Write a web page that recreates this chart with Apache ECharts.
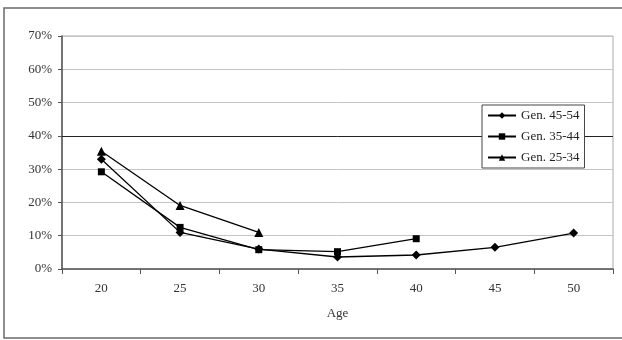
<!DOCTYPE html>
<html>
<head>
<meta charset="utf-8">
<script src="https://cdn.jsdelivr.net/npm/echarts@6/dist/echarts.min.js"></script>
<style>
  html, body { margin: 0; padding: 0; background: #fff; }
  #chart { width: 622px; height: 340px; }
</style>
</head>
<body>
<div id="chart"></div>
<script>
// ages on x axis
const ages = ['20', '25', '30', '35', '40', '45', '50']
// share by generation (fraction), null where no data
const gen4554 = [0.33, 0.11, 0.06, 0.036, 0.042, 0.065, 0.108]
const gen3544 = [0.292, 0.125, 0.058, 0.052, 0.091, null, null]
const gen2534 = [0.354, 0.191, 0.11, null, null, null, null]
const seriesNames = ['Gen. 45-54', 'Gen. 35-44', 'Gen. 25-34']

const font = '"Liberation Serif", "DejaVu Serif", serif'
const chart = echarts.init(document.getElementById('chart'))

function lineSeries(name, data, symbol, size) {
  return {
    name,
    type: 'line',
    data,
    symbol,
    symbolSize: size,
    showSymbol: true,
    connectNulls: false,
    lineStyle: { color: '#000', width: 1.3 },
    itemStyle: { color: '#000' },
    emphasis: { disabled: true },
    z: 3
  }
}

const series = [
  lineSeries(seriesNames[0], gen4554, 'diamond', 9),
  lineSeries(seriesNames[1], gen3544, 'rect', 7),
  lineSeries(seriesNames[2], gen2534, 'triangle', 9)
]
// the dark 40% line
series[0].markLine = {
  silent: true,
  symbol: 'none',
  label: { show: false },
  lineStyle: { color: '#222', type: 'solid', width: 1 },
  data: [{ yAxis: 0.4 }],
  z: 1
}

chart.setOption({
  animation: false,
  textStyle: { fontFamily: font },
  graphic: [{
    type: 'rect',
    shape: { x: 4, y: 8, width: 640, height: 330 },
    style: { fill: 'none', stroke: '#6a6a6a', lineWidth: 1.5 },
    silent: true
  }],
  grid: {
    left: 62, right: 9, top: 36, bottom: 71,
    show: true, borderColor: '#aaa', borderWidth: 1
  },
  legend: {
    orient: 'vertical',
    left: 482, top: 105,
    data: seriesNames,
    backgroundColor: '#fff',
    borderColor: '#444',
    borderWidth: 1,
    padding: [4, 5, 4, 5],
    itemGap: 8,
    itemWidth: 28,
    itemHeight: 8,
    textStyle: { fontFamily: font, fontSize: 13, color: '#222' }
  },
  xAxis: {
    type: 'category',
    data: ages,
    boundaryGap: true,
    name: 'Age',
    nameLocation: 'middle',
    nameGap: 38,
    nameTextStyle: { fontFamily: font, fontSize: 13, color: '#333' },
    axisLine: { lineStyle: { color: '#555', width: 1.5 } },
    axisTick: { show: true, length: 5, inside: false, lineStyle: { color: '#555' } },
    axisLabel: { fontFamily: font, fontSize: 13, color: '#333', margin: 13 },
    splitLine: { show: false }
  },
  yAxis: {
    type: 'value',
    min: 0, max: 0.7, interval: 0.1,
    axisLine: { show: true, lineStyle: { color: '#555', width: 1.5 } },
    axisTick: { show: true, length: 4, lineStyle: { color: '#555' } },
    axisLabel: {
      fontFamily: font, fontSize: 13, color: '#333', margin: 10,
      formatter: v => Math.round(v * 100) + '%'
    },
    splitLine: { show: true, lineStyle: { color: '#c4c4c4', width: 1 } }
  },
  series
})
</script>
</body>
</html>
